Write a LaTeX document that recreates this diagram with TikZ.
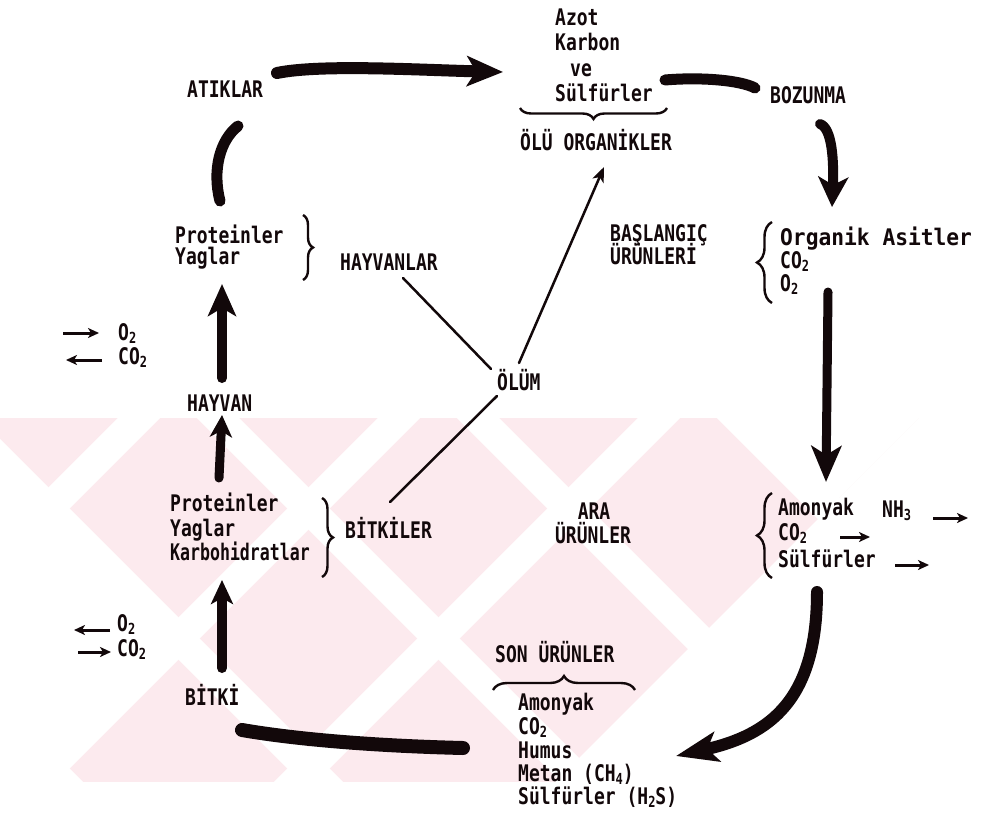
\documentclass[tikz,border=0pt]{standalone}
\usepackage{fontspec}
\usepackage{graphicx}
\setmonofont{DejaVu Sans Mono}
\usetikzlibrary{arrows.meta,decorations.pathreplacing}
\definecolor{wm}{RGB}{252,234,238}
\definecolor{ink}{RGB}{18,8,10}
\newcommand\Tx[2][1]{\scalebox{#1}[1.27]{#2}}
\newcommand\sbs[1]{\raisebox{-3pt}{\fontsize{12}{12}\selectfont #1}}
\begin{document}
\begin{tikzpicture}[x=1pt,y=-1pt,
  txt/.style={inner sep=0pt,anchor=base west,font=\fontsize{18}{23}\selectfont\ttfamily\bfseries,text=ink},
  ctxt/.style={txt,anchor=base},
  bigline/.style={draw=ink,line width=#1,line cap=round},
  thinline/.style={draw=ink,line width=2.5pt,line cap=round},
  smallarrow/.style={draw=ink,line width=3pt,-{Stealth[length=11pt,width=10pt,inset=3pt]}},
  bracebr/.style={draw=ink,line width=2.4pt,decorate,decoration={brace,amplitude=#1,aspect=0.5}},
  wstripe/.style={draw=white,line width=30pt}]
\fill[white] (0,0) rectangle (1006,816);
\useasboundingbox (0,0) rectangle (1006,816);
% watermark
\begin{scope}
\clip (0,418) rectangle (1006,782);
\fill[wm] (0,418) rectangle (1006,782);
\foreach \c in {297,557,817,1077} {\draw[wstripe] (\c-300,300) -- (\c-900,900);}
\foreach \d in {-720,-460,-200,60,320} {\draw[wstripe] (\d+300,300) -- (\d+900,900);}
\fill[white] (1337,0) -- (0,1337) -- (1006,1337) -- (1006,0) -- cycle;
\fill[white] (178.5,638.5) -- (-300,160) -- (-300,1117) -- cycle;
\fill[white] (698.5,378.5) -- (828.5,508.5) -- (958.5,378.5) -- (828.5,248.5) -- cycle;
\end{scope}
% texts
\node[txt] (azot) at (555,26) {\Tx{Azot}};
\node[txt] (karbon) at (555,51) {\Tx{Karbon}};
\node[txt] (ve) at (570,76) {\Tx{ve}};
\node[txt] (sulf) at (555,101) {\Tx{Sülfürler}};
\node[txt] (olu) at (520,150) {\Tx{ÖLÜ ORGANİKLER}};
\node[txt] (atik) at (187,97) {\Tx{ATIKLAR}};
\node[txt] (bozunma) at (770,103) {\Tx{BOZUNMA}};
\node[txt] (hp1) at (175,243) {\Tx{Proteinler}};
\node[txt] (hp2) at (175,264) {\Tx{Yaglar}};
\node[txt] (hayvanlar) at (340,270) {\Tx{HAYVANLAR}};
\node[txt] (basl1) at (610,241) {\Tx{BAŞLANGIÇ}};
\node[txt] (basl2) at (610,264) {\Tx{ÜRÜNLERİ}};
\node[txt] (org1) at (780,245) {\Tx[1.18]{Organik Asitler}};
\node[txt] (org2) at (780,268) {\Tx{CO\sbs{2}}};
\node[txt] (org3) at (780,291) {\Tx{O\sbs{2}}};
\node[txt] (o2a) at (118,340) {\Tx{O\sbs{2}}};
\node[txt] (co2a) at (118,364) {\Tx{CO\sbs{2}}};
\node[txt] (hayvan) at (187,411) {\Tx{HAYVAN}};
\node[txt] (olum) at (497,390) {\Tx{ÖLÜM}};
\node[txt] (bp1) at (170,511) {\Tx{Proteinler}};
\node[txt] (bp2) at (170,536) {\Tx{Yaglar}};
\node[txt] (bp3) at (170,560) {\Tx[0.92]{Karbohidratlar}};
\node[txt] (bitkiler) at (345,538) {\Tx{BİTKİLER}};
\node[ctxt] (ara1) at (594,519) {\Tx{ARA}};
\node[ctxt] (ara2) at (593,543) {\Tx{ÜRÜNLER}};
\node[txt] (am1) at (778,515) {\Tx{Amonyak}};
\node[txt] (nh3) at (882,517) {\Tx{NH\sbs{3}}};
\node[txt] (am2) at (778,540) {\Tx{CO\sbs{2}}};
\node[txt] (am3) at (778,567) {\Tx{Sülfürler}};
\node[txt] (o2b) at (117,631) {\Tx{O\sbs{2}}};
\node[txt] (co2b) at (117,656) {\Tx{CO\sbs{2}}};
\node[txt] (bitki) at (185,705) {\Tx{BİTKİ}};
\node[txt] (son) at (495,662) {\Tx{SON ÜRÜNLER}};
\node[txt] (s1) at (518,710) {\Tx{Amonyak}};
\node[txt] (s2) at (518,734) {\Tx{CO\sbs{2}}};
\node[txt] (s3) at (518,758) {\Tx{Humus}};
\node[txt] (s4) at (518,781) {\Tx{Metan (CH\sbs{4})}};
\node[txt] (s5) at (518,804) {\Tx{Sülfürler (H\sbs{2}S)}};
% braces
\draw[bracebr=11pt] (667,108) -- (520,108);
\draw[bracebr=14pt] (493,690) -- (635,690);
\draw[bracebr=10pt] (303,215) -- (303,280);
\draw[bracebr=15pt] (772,303) -- (772,222);
\draw[bracebr=11pt] (322,498) -- (322,577);
\draw[bracebr=15pt] (772,578) -- (772,493);
% coordinates for thick strokes
\coordinate (t1) at (277,73); \coordinate (t2) at (503,72);
\coordinate (r1) at (665,80); \coordinate (r2) at (755,88);
\coordinate (b1) at (820,124); \coordinate (b2) at (832,207);
\coordinate (d1) at (828,292); \coordinate (d2) at (826,482);
\coordinate (c1) at (817,592); \coordinate (c2) at (676,756);
\coordinate (e1) at (463,748); \coordinate (e2) at (242,730);
\coordinate (f1) at (222,668); \coordinate (f2) at (222,580);
\coordinate (g1) at (219,478); \coordinate (g2) at (222,415);
\coordinate (h1) at (222,378); \coordinate (h2) at (222,284);
\coordinate (k1) at (220,201); \coordinate (k2) at (238,126);
\draw[bigline=12pt,-{Stealth[length=36pt,width=30pt,inset=9pt]}] (t1) .. controls (320,64) and (420,70) .. (t2);
\draw[bigline=11pt] (r1) .. controls (700,77) and (740,80) .. (r2);
\draw[bigline=10pt,-{Stealth[length=30pt,width=30pt,inset=8pt]}] (b1) .. controls (832,128) and (834,160) .. (b2);
\draw[bigline=9pt,-{Stealth[length=36pt,width=30pt,inset=9pt]}] (d1) -- (d2);
\draw[bigline=12pt,-{Stealth[length=42pt,width=30pt,inset=10pt]}] (c1) .. controls (817,700) and (770,735) .. (c2);
\draw[bigline=14pt] (e1) .. controls (380,746) and (300,740) .. (e2);
\draw[bigline=10pt,-{Stealth[length=24pt,width=22pt,inset=6pt]}] (f1) -- (f2);
\draw[bigline=9pt,-{Stealth[length=22pt,width=22pt,inset=6pt]}] (g1) -- (g2);
\draw[bigline=10pt,-{Stealth[length=32pt,width=28pt,inset=8pt]}] (h1) -- (h2);
\draw[bigline=11pt] (k1) .. controls (212,170) and (220,140) .. (k2);
% thin lines from OLUM
\coordinate (m1) at (403,278); \coordinate (m2) at (491,369);
\coordinate (m3) at (519,363); \coordinate (m4) at (604,167);
\coordinate (m5) at (497,396); \coordinate (m6) at (390,502);
\draw[thinline] (m1) -- (m2);
\draw[thinline,-{Stealth[length=15pt,width=12pt,inset=4pt]}] (m3) -- (m4);
\draw[thinline] (m5) -- (m6);
% small arrows
\coordinate (p1) at (63,333); \coordinate (p2) at (99,333);
\coordinate (p3) at (102,360); \coordinate (p4) at (66,360);
\coordinate (p5) at (110,630); \coordinate (p6) at (74,630);
\coordinate (p7) at (78,652); \coordinate (p8) at (111,652);
\coordinate (p9) at (933,518); \coordinate (p10) at (968,518);
\coordinate (p11) at (840,537); \coordinate (p12) at (870,537);
\coordinate (p13) at (895,565); \coordinate (p14) at (929,565);
\draw[smallarrow] (p1) -- (p2);
\draw[smallarrow] (p3) -- (p4);
\draw[smallarrow] (p5) -- (p6);
\draw[smallarrow] (p7) -- (p8);
\draw[smallarrow] (p9) -- (p10);
\draw[smallarrow] (p11) -- (p12);
\draw[smallarrow] (p13) -- (p14);
\end{tikzpicture}
\end{document}
